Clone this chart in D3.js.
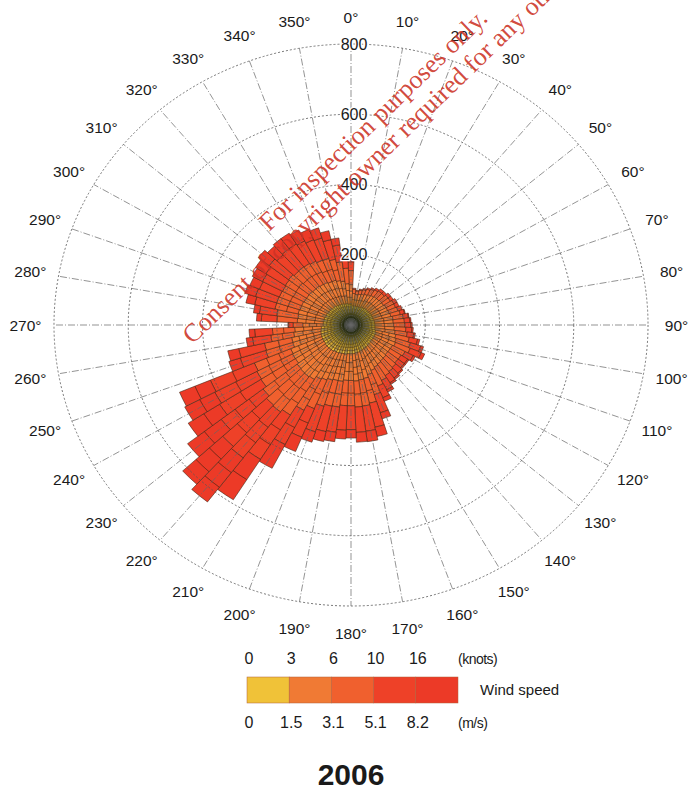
<!DOCTYPE html>
<html>
<head>
<meta charset="utf-8">
<script src="https://cdn.jsdelivr.net/npm/d3@7"></script>
<style>
  html, body { margin: 0; padding: 0; background: #fff; }
  svg { display: block; font-family: "Liberation Sans", Arial, sans-serif; }
</style>
</head>
<body>
<div id="chart"></div>
<script>
// wind directions, 5 degree sectors
const directions = d3.range(0, 360, 5);

// counts per speed class (m/s), one value per direction
const calm     = [60,55,55,55,55,55,58,58,60,60,60,60,62,62,62,62,64,64,65,65,66,68,70,70,70,70,70,72,72,74,75,76,78,80,80,82,82,82,84,84,85,86,86,88,88,88,88,86,86,86,85,84,82,80,75,75,74,74,72,72,70,70,70,68,68,66,65,64,64,62,62,60];
const light    = [55,35,33,35,37,40,40,42,42,42,44,44,45,45,46,48,50,50,50,52,54,56,58,60,56,55,55,56,57,58,60,64,70,76,78,78,76,76,78,78,80,84,88,96,98,97,95,92,92,90,80,80,74,72,55,70,70,72,72,72,72,72,72,72,72,72,72,70,70,68,64,58];
const moderate = [40,12,10,12,14,16,17,19,20,20,22,22,23,23,25,26,28,30,30,31,33,37,40,43,38,35,35,36,38,39,43,48,60,72,75,74,72,72,74,75,78,88,100,120,126,124,116,110,108,106,76,75,62,60,26,55,58,64,66,65,66,68,70,68,69,70,68,66,65,62,56,44];
const fresh    = [25,3,2,3,4,4,5,6,8,8,9,9,10,10,12,12,14,15,16,16,18,23,29,32,25,21,21,22,23,24,30,36,54,70,72,72,68,70,72,74,76,88,110,150,165,160,142,132,128,128,72,71,50,48,12,42,47,56,60,58,61,62,66,63,65,66,65,63,61,57,48,32];
const strong   = [5,0,0,0,0,0,0,0,0,0,0,0,0,0,0,2,2,3,4,4,4,6,8,10,6,4,4,4,5,5,7,11,18,27,30,28,24,25,27,29,31,44,76,136,158,146,114,100,91,90,32,30,17,15,2,13,16,24,30,28,31,33,37,34,36,36,35,32,30,26,20,6];

const speedClasses = ["0-1.5", "1.5-3.1", "3.1-5.1", "5.1-8.2", ">8.2"];
const knotTicks = ["0", "3", "6", "10", "16"];
const msTicks = ["0", "1.5", "3.1", "5.1", "8.2"];
const ringTicks = [200, 400, 600, 800];
const angleTicks = d3.range(0, 360, 10);
const yearLabel = "2006";

const colors = ["#f0c238", "#f07a34", "#f0602e", "#ee4128", "#ec3a27"];
// finer tiles drawn inside each class band (in counts), like the original plot
const tileStep = [9, 22, 40, 55, 55];

const width = 690, height = 793;
const cx = 351, cy = 325;
const sx = 1.057; // the scan is a little wider than tall

const svg = d3.select("#chart").append("svg")
  .attr("width", width)
  .attr("height", height);

svg.append("rect").attr("width", width).attr("height", height).attr("fill", "#fff");

const r = d3.scaleLinear().domain([0, 800]).range([0, 281]);
const color = d3.scaleOrdinal().domain(speedClasses).range(colors);

// stack the classes for each direction
const table = directions.map((d, i) => ({
  dir: d,
  "0-1.5": calm[i], "1.5-3.1": light[i], "3.1-5.1": moderate[i], "5.1-8.2": fresh[i], ">8.2": strong[i]
}));
const series = d3.stack().keys(speedClasses)(table);

const polar = svg.append("g")
  .attr("transform", `translate(${cx},${cy}) scale(${sx},1)`);

const rad = a => a * Math.PI / 180;
const arc = d3.arc()
  .innerRadius(d => r(d[0]))
  .outerRadius(d => r(d[1]))
  .startAngle(d => rad(d.data.dir - 2.5))
  .endAngle(d => rad(d.data.dir + 2.5));

// bars
polar.selectAll("g.layer")
  .data(series)
  .join("g")
  .attr("class", "layer")
  .attr("fill", d => color(d.key))
  .selectAll("path")
  .data(d => d.filter(v => v[1] > v[0]))
  .join("path")
  .attr("d", arc)
  .attr("stroke", "#3a2210")
  .attr("stroke-opacity", 0.8)
  .attr("stroke-width", 0.7)
  .attr("vector-effect", "non-scaling-stroke");

// tile lines inside each band
const tiles = [];
series.forEach((s, k) => {
  s.forEach(v => {
    const len = v[1] - v[0];
    const n = Math.max(1, Math.round(len / tileStep[k]));
    for (let j = 1; j < n; j++) tiles.push({ dir: v.data.dir, at: v[0] + len * j / n });
  });
});
polar.append("g")
  .selectAll("path")
  .data(tiles)
  .join("path")
  .attr("d", d => d3.arc()({
    innerRadius: r(d.at), outerRadius: r(d.at),
    startAngle: rad(d.dir - 2.5), endAngle: rad(d.dir + 2.5)
  }))
  .attr("fill", "none")
  .attr("stroke", "#3a2210")
  .attr("stroke-opacity", 0.6)
  .attr("stroke-width", 0.6)
  .attr("vector-effect", "non-scaling-stroke");

// dark olive hub where the thin sectors crowd together
const grad = svg.append("defs").append("radialGradient").attr("id", "hub");
grad.append("stop").attr("offset", "0%").attr("stop-color", "#0a120a").attr("stop-opacity", 1);
grad.append("stop").attr("offset", "25%").attr("stop-color", "#1f2a14").attr("stop-opacity", 0.85);
grad.append("stop").attr("offset", "55%").attr("stop-color", "#5a5a20").attr("stop-opacity", 0.6);
grad.append("stop").attr("offset", "85%").attr("stop-color", "#806820").attr("stop-opacity", 0.3);
grad.append("stop").attr("offset", "100%").attr("stop-color", "#8a6a20").attr("stop-opacity", 0);
polar.append("circle").attr("r", r(85)).attr("fill", "url(#hub)");

// grid rings
polar.selectAll("circle.ring")
  .data(ringTicks)
  .join("circle")
  .attr("class", "ring")
  .attr("r", d => r(d))
  .attr("fill", "none")
  .attr("stroke", "#555")
  .attr("stroke-width", 0.8)
  .attr("stroke-dasharray", "2,2")
  .attr("vector-effect", "non-scaling-stroke");

// grid spokes
polar.selectAll("line.spoke")
  .data(angleTicks)
  .join("line")
  .attr("class", "spoke")
  .attr("x1", 0).attr("y1", 0)
  .attr("x2", d => r(800) * Math.sin(rad(d)))
  .attr("y2", d => -r(800) * Math.cos(rad(d)))
  .attr("stroke", "#666")
  .attr("stroke-width", 0.7)
  .attr("stroke-dasharray", "7,2,1,2")
  .attr("vector-effect", "non-scaling-stroke");

// angle labels
const labR = 308;
svg.append("g")
  .selectAll("text")
  .data(angleTicks)
  .join("text")
  .attr("x", d => cx + labR * Math.sin(rad(d)) * sx)
  .attr("y", d => cy - labR * Math.cos(rad(d)))
  .attr("text-anchor", "middle")
  .attr("dominant-baseline", "central")
  .attr("font-size", 15.5)
  .attr("fill", "#1a1a1a")
  .text(d => d + "°");

// ring labels
svg.append("g")
  .selectAll("text")
  .data(ringTicks)
  .join("text")
  .attr("x", cx + 3)
  .attr("y", d => cy - r(d))
  .attr("text-anchor", "middle")
  .attr("dominant-baseline", "central")
  .attr("font-size", 16)
  .attr("fill", "#1a1a1a")
  .attr("stroke", "#fff")
  .attr("stroke-width", 2.5)
  .attr("paint-order", "stroke")
  .text(d => d);

// legend
const lx = d3.scaleLinear().domain([0, speedClasses.length]).range([247, 458]);
const legend = svg.append("g");
legend.selectAll("rect")
  .data(speedClasses)
  .join("rect")
  .attr("x", (d, i) => lx(i))
  .attr("y", 677)
  .attr("width", lx(1) - lx(0))
  .attr("height", 26)
  .attr("fill", d => color(d))
  .attr("stroke", "#b0603a")
  .attr("stroke-width", 0.5);

legend.selectAll("text.knots")
  .data(knotTicks)
  .join("text")
  .attr("class", "knots")
  .attr("x", (d, i) => lx(i) + 2)
  .attr("y", 664)
  .attr("text-anchor", "middle")
  .attr("font-size", 16)
  .attr("fill", "#1a1a1a")
  .text(d => d);

legend.selectAll("text.ms")
  .data(msTicks)
  .join("text")
  .attr("class", "ms")
  .attr("x", (d, i) => lx(i) + 2)
  .attr("y", 728)
  .attr("text-anchor", "middle")
  .attr("font-size", 16)
  .attr("fill", "#1a1a1a")
  .text(d => d);

legend.append("text")
  .attr("x", 458).attr("y", 664)
  .attr("font-size", 14).attr("letter-spacing", -0.5).attr("fill", "#1a1a1a")
  .text("(knots)");
legend.append("text")
  .attr("x", 458).attr("y", 728)
  .attr("font-size", 14).attr("letter-spacing", -0.5).attr("fill", "#1a1a1a")
  .text("(m/s)");
legend.append("text")
  .attr("x", 480).attr("y", 695)
  .attr("font-size", 15).attr("fill", "#1a1a1a")
  .text("Wind speed");

// year
svg.append("text")
  .attr("x", cx).attr("y", 785)
  .attr("text-anchor", "middle")
  .attr("font-size", 30)
  .attr("font-weight", "bold")
  .attr("fill", "#1a1a1a")
  .text(yearLabel);

// stamp across the chart
const stamp = svg.append("g")
  .attr("transform", "translate(379,126) rotate(-44)")
  .attr("font-family", "'Liberation Serif', 'Times New Roman', serif")
  .attr("font-size", 26)
  .attr("fill", "#cc3326")
  .attr("fill-opacity", 0.9)
  .attr("text-anchor", "middle");
stamp.append("text").attr("x", 0).attr("y", 0).text("For inspection purposes only.");
stamp.append("text").attr("x", 0).attr("y", 28).text("Consent of copyright owner required for any other use.");
</script>
</body>
</html>
